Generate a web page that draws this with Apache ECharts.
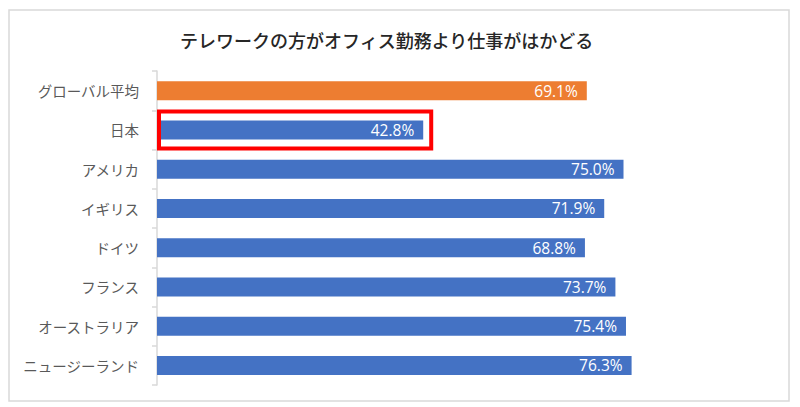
<!DOCTYPE html>
<html>
<head>
<meta charset="utf-8">
<script src="https://cdn.jsdelivr.net/npm/echarts@6/dist/echarts.min.js"></script>
<style>
  html, body { margin: 0; padding: 0; background: #fff; }
  #chart { width: 800px; height: 407px; }
</style>
</head>
<body>
<div id="chart"></div>
<script>
// テレワークの方がオフィス勤務より仕事がはかどる — horizontal bars, Japan boxed in red

const TITLE = 'テレワークの方がオフィス勤務より仕事がはかどる';
const categories = ['グローバル平均', '日本', 'アメリカ', 'イギリス', 'ドイツ', 'フランス', 'オーストラリア', 'ニュージーランド'];
const values = [69.1, 42.8, 75.0, 71.9, 68.8, 73.7, 75.4, 76.3];
const highlightName = '日本';

const ORANGE = '#ED7D31';
const BLUE = '#4472C4';
const GRID_LINE = '#D9D9D9';
const JP_FONT = '"Noto Sans CJK JP", "Noto Sans", sans-serif';

const chart = echarts.init(document.getElementById('chart'), null, { renderer: 'svg' });

chart.setOption({
  animation: false,
  backgroundColor: '#fff',
  title: {
    text: TITLE,
    left: 180,
    top: 31,
    padding: 0,
    textStyle: { fontFamily: JP_FONT, fontSize: 18, fontWeight: 500, color: '#262626' },
  },
  grid: { left: 157, right: 21, top: 71, bottom: 22 },
  xAxis: {
    type: 'value',
    min: 0,
    max: 100,
    show: false,
  },
  yAxis: {
    type: 'category',
    data: categories,
    inverse: true,
    axisLine: { lineStyle: { color: GRID_LINE, width: 1.5 } },
    axisTick: { show: true, length: 5, lineStyle: { color: GRID_LINE, width: 1.5 } },
    axisLabel: { margin: 18, color: '#595959', fontFamily: JP_FONT, fontSize: 14.5 },
  },
  series: [{
    type: 'bar',
    data: values.map((v, i) => ({ value: v, itemStyle: { color: i === 0 ? ORANGE : BLUE } })),
    barWidth: 19,
    label: {
      show: true,
      position: 'insideRight',
      distance: 9,
      color: '#fff',
      fontFamily: '"Open Sans", "Noto Sans", sans-serif',
      fontSize: 15.5,
      formatter: p => p.value.toFixed(1) + '%',
    },
  }],
});

// outer frame + red highlight box, placed from the axis scales
const [x0, yc] = chart.convertToPixel({ gridIndex: 0 }, [0, highlightName]);
const [xEnd] = chart.convertToPixel({ gridIndex: 0 }, [values[categories.indexOf(highlightName)], highlightName]);

chart.setOption({
  graphic: [
    {
      type: 'rect',
      shape: { x: 9, y: 10, width: 780, height: 391 },
      style: { fill: 'none', stroke: GRID_LINE, lineWidth: 1.5 },
      z: -1,
    },
    {
      type: 'rect',
      shape: { x: x0 + 2, y: yc - 18.5, width: xEnd - x0 + 6, height: 37 },
      style: { fill: 'none', stroke: '#FF0000', lineWidth: 4 },
      z: 10,
    },
  ],
});

window.addEventListener('resize', () => chart.resize());
</script>
</body>
</html>
